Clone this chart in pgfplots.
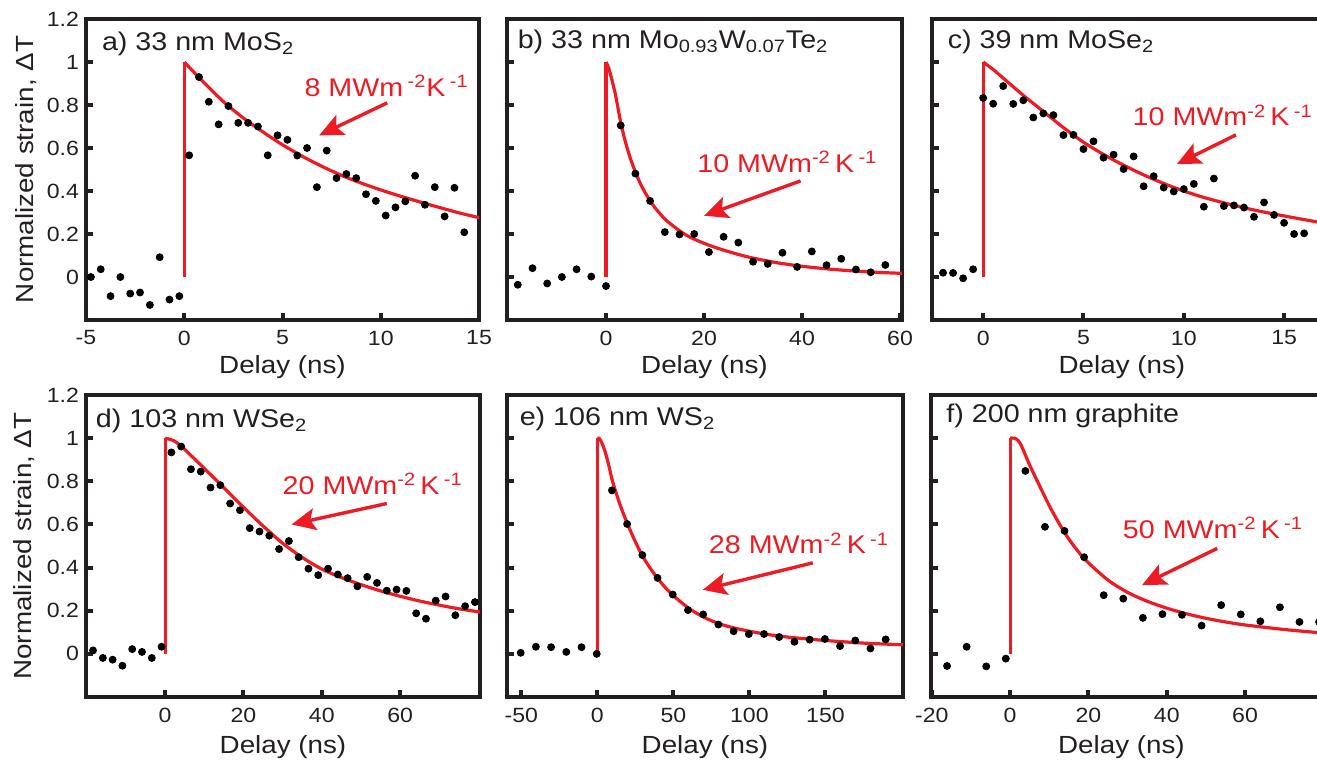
\documentclass[border=0pt]{standalone}
\usepackage{fontspec}
\setmainfont{Liberation Sans}[FakeStretch=1.12]
\usepackage{pgfplots}
\pgfplotsset{compat=1.18}
\usetikzlibrary{arrows.meta}
\definecolor{fitred}{RGB}{237,28,36}
\definecolor{framec}{RGB}{35,31,32}
\pgfplotsset{
  panel/.style={
    scale only axis, anchor=south west,
    axis line style={line width=2pt, draw=framec},
    tick align=inside, xtick pos=left, ytick pos=left,
    major tick length=3.5pt,
    major tick style={line width=2pt, draw=framec},
    ymin=-0.2, ymax=1.2,
    ytick={0,0.2,0.4,0.6,0.8,1,1.2},
    tick label style={font=\fontsize{10.3}{11}\selectfont, text=framec},
    xticklabel style={yshift=-1.8pt},
    /pgf/number format/assume math mode=true,
    label style={font=\fontsize{12.4}{13}\selectfont, text=framec},
    clip=true,
  },
  toprow/.style={xlabel style={at={(axis description cs:0.5,-0.158)}, anchor=center}},
  botrow/.style={xlabel style={at={(axis description cs:0.5,-0.165)}, anchor=center}},
  nolab/.style={yticklabels={}},
  fit/.style={fitred, line width=1.6pt},
  dots/.style={only marks, mark=*, mark size=1.75pt, black},
}
\tikzset{
  ann/.style={fitred, font=\fontsize{12.8}{13}\selectfont, anchor=base, inner sep=0pt},
  ttl/.style={anchor=west, inner sep=0pt, font=\fontsize{12.8}{13}\selectfont, text=framec},
  arr/.style={fitred, line width=1.7pt, -{Stealth[length=12pt,width=11pt,inset=2.5pt]}},
}
\begin{document}
\begin{tikzpicture}
\path[use as bounding box] (0,0) rectangle (658.5pt,-380.5pt);

% ---------- a ----------
\begin{axis}[panel, toprow, at={(43pt,-160pt)}, width=196.5pt, height=150.5pt,
  xmin=-5, xmax=15, xtick={-5,0,5,10,15},
  xlabel={Delay (ns)}, ylabel={Normalized strain, ΔT},
  ylabel style={at={(axis description cs:-0.153,0.5)}, anchor=center}]
\addplot[fit] coordinates {(0,0) (0,1)};
\addplot[fit, smooth] coordinates {(0,1) (0.5,0.952) (1,0.905) (2,0.815) (3,0.74) (4,0.675) (5,0.615) (6,0.562) (7,0.515) (8,0.473) (9,0.437) (10,0.405) (11,0.376) (12,0.349) (13,0.323) (14,0.298) (15,0.276)};
\addplot[dots] coordinates {(-4.75,0.0) (-4.25,0.036) (-3.75,-0.089) (-3.25,0.0) (-2.75,-0.077) (-2.25,-0.072) (-1.75,-0.13) (-1.25,0.092) (-0.75,-0.105) (-0.25,-0.089) (0.25,0.566) (0.75,0.93) (1.25,0.815) (1.75,0.71) (2.25,0.795) (2.75,0.717) (3.25,0.717) (3.75,0.70) (4.25,0.566) (4.75,0.659) (5.25,0.638) (5.75,0.565) (6.25,0.60) (6.75,0.418) (7.25,0.588) (7.75,0.46) (8.25,0.479) (8.75,0.46) (9.25,0.385) (9.75,0.354) (10.25,0.286) (10.75,0.324) (11.25,0.352) (11.75,0.471) (12.25,0.336) (12.75,0.418) (13.25,0.282) (13.75,0.415) (14.25,0.208)};
\node[ttl] at (rel axis cs:0,1) [xshift=7.8pt, yshift=-12.5pt] {a) 33 nm MoS\textsubscript{2}};
\node[ann] at (axis cs:10.3,0.839) {8 MWm\,\textsuperscript{-2}K\,\textsuperscript{-1}};
\draw[arr] (axis cs:10.33,0.81) -- (axis cs:6.87,0.659);
\end{axis}

% ---------- b ----------
\begin{axis}[panel, toprow, nolab, at={(253.5pt,-160pt)}, width=197.5pt, height=150.5pt,
  xmin=-20.2, xmax=60.4, xtick={0,20,40,60}, xlabel={Delay (ns)}]
\addplot[fit] coordinates {(0,0) (0,1)};
\addplot[fit, smooth] coordinates {(0,1) (0.5,0.975) (1,0.935) (1.5,0.89) (2,0.84) (3,0.72) (4,0.625) (5,0.55) (6,0.488) (7,0.435) (8,0.392) (9,0.355) (10,0.322) (12,0.27) (14,0.232) (16,0.2) (18,0.176) (21,0.148) (24,0.125) (27,0.105) (30,0.088) (35,0.066) (40,0.05) (45,0.038) (50,0.029) (55,0.022) (60.4,0.017)};
\addplot[dots] coordinates {(-18,-0.036) (-15,0.041) (-12,-0.03) (-9,0.0) (-6,0.036) (-3,0.002) (0,-0.042) (3,0.705) (6,0.481) (9,0.354) (12,0.209) (15,0.198) (18,0.2) (21,0.116) (24,0.187) (27,0.16) (30,0.071) (33,0.061) (36,0.113) (39,0.047) (42,0.119) (45,0.055) (48,0.085) (51,0.035) (54,0.022) (57,0.056)};
\node[ttl] at (rel axis cs:0,1) [xshift=5.2pt, yshift=-11.5pt] {b) 33 nm Mo\textsubscript{0.93}W\textsubscript{0.07}Te\textsubscript{2}};
\node[ann] at (axis cs:37.0,0.486) {10 MWm\textsuperscript{-2}\,K\,\textsuperscript{-1}};
\draw[arr] (axis cs:39.7,0.447) -- (axis cs:20.0,0.285);
\end{axis}

% ---------- c ----------
\begin{axis}[panel, toprow, nolab, at={(466pt,-160pt)}, width=195pt, height=150.5pt,
  xmin=-2.55, xmax=16.89, xtick={0,5,10,15}, xlabel={Delay (ns)},
  xlabel style={at={(axis description cs:0.487,-0.158)}}]
\addplot[fit] coordinates {(0,0) (0,1)};
\addplot[fit, smooth] coordinates {(0,1) (0.5,0.965) (1,0.925) (2,0.845) (3,0.77) (4,0.695) (5,0.627) (6,0.57) (7,0.52) (8,0.475) (9,0.435) (10,0.4) (11,0.37) (12,0.345) (13,0.322) (14,0.302) (15,0.284) (16,0.267) (16.89,0.252)};
\addplot[dots] coordinates {(-2,0.02) (-1.5,0.019) (-1,-0.006) (-0.5,0.036) (0,0.833) (0.5,0.806) (1,0.888) (1.5,0.805) (2,0.822) (2.5,0.742) (3,0.761) (3.5,0.753) (4,0.66) (4.5,0.661) (5,0.595) (5.5,0.631) (6,0.555) (6.5,0.569) (7,0.502) (7.5,0.561) (8,0.422) (8.5,0.469) (9,0.416) (9.5,0.398) (10,0.409) (10.5,0.433) (11,0.327) (11.5,0.458) (12,0.33) (12.5,0.333) (13,0.323) (13.5,0.28) (14,0.347) (14.5,0.289) (15,0.252) (15.5,0.2) (16,0.203)};
\node[ttl] at (rel axis cs:0,1) [xshift=7.7pt, yshift=-11.5pt] {c) 39 nm MoSe\textsubscript{2}};
\node[ann] at (axis cs:11.94,0.703) {10 MWm\textsuperscript{-2}\,K\,\textsuperscript{-1}};
\draw[arr] (axis cs:12.6,0.661) -- (axis cs:9.65,0.525);
\end{axis}

% ---------- d ----------
\begin{axis}[panel, botrow, at={(43pt,-348.5pt)}, width=197pt, height=151pt,
  xmin=-20.2, xmax=80.4, xtick={0,20,40,60},
  xlabel={Delay (ns)}, ylabel={Normalized strain, ΔT},
  ylabel style={at={(axis description cs:-0.157,0.5)}, anchor=center}]
\addplot[fit] coordinates {(0,0) (0,1)};
\addplot[fit, smooth] coordinates {(0,1) (2,0.99) (4,0.965) (6,0.93) (8,0.895) (10,0.86) (15,0.77) (20,0.68) (25,0.593) (30,0.513) (35,0.447) (40,0.393) (45,0.354) (50,0.321) (55,0.292) (60,0.267) (65,0.245) (70,0.226) (75,0.209) (80.4,0.194)};
\addplot[dots] coordinates {(-18.4,0.016) (-15.9,-0.019) (-13.4,-0.027) (-10.9,-0.055) (-8.4,0.022) (-5.9,0.009) (-3.4,-0.019) (-0.9,0.033) (1.6,0.934) (4.1,0.961) (6.6,0.856) (9.1,0.845) (11.6,0.771) (14.1,0.782) (16.6,0.697) (19.1,0.666) (21.6,0.583) (24.1,0.567) (26.6,0.548) (29.1,0.486) (31.6,0.523) (34.1,0.448) (36.6,0.395) (39.1,0.365) (41.6,0.395) (44.1,0.368) (46.6,0.351) (49.1,0.313) (51.6,0.357) (54.1,0.329) (56.6,0.293) (59.1,0.298) (61.6,0.292) (64.1,0.188) (66.6,0.163) (69.1,0.247) (71.6,0.266) (74.1,0.179) (76.6,0.221) (79.1,0.24)};
\node[ttl] at (rel axis cs:0,1) [xshift=4.8pt, yshift=-12.8pt] {d) 103 nm WSe\textsubscript{2}};
\node[ann] at (axis cs:53.0,0.74) {20 MWm\textsuperscript{-2}\,K\,\textsuperscript{-1}};
\draw[arr] (axis cs:56.6,0.697) -- (axis cs:32.3,0.60);
\end{axis}

% ---------- e ----------
\begin{axis}[panel, botrow, nolab, at={(253.5pt,-348.5pt)}, width=198pt, height=151pt,
  xmin=-59.4, xmax=201, xtick={-50,0,50,100,150}, xlabel={Delay (ns)}]
\addplot[fit] coordinates {(0,0) (0,1)};
\addplot[fit, smooth] coordinates {(0,1) (1,1.0) (2.5,0.985) (5,0.94) (7.5,0.875) (10,0.80) (15,0.69) (20,0.60) (25,0.52) (30,0.45) (35,0.395) (40,0.347) (45,0.305) (50,0.27) (60,0.212) (70,0.17) (80,0.14) (90,0.12) (100,0.105) (112,0.09) (125,0.078) (137,0.07) (150,0.062) (175,0.05) (201,0.042)};
\addplot[dots] coordinates {(-50.4,0.005) (-40.4,0.033) (-30.4,0.031) (-20.4,0.009) (-10.4,0.031) (-0.4,0.0) (9.6,0.758) (19.6,0.602) (29.6,0.458) (39.6,0.352) (49.6,0.275) (59.6,0.203) (69.6,0.183) (79.6,0.136) (89.6,0.105) (99.6,0.092) (109.6,0.092) (119.6,0.078) (129.6,0.056) (139.6,0.066) (149.6,0.069) (159.6,0.036) (169.6,0.062) (179.6,0.025) (189.6,0.067)};
\node[ttl] at (rel axis cs:0,1) [xshift=6.2pt, yshift=-12pt] {e) 106 nm WS\textsubscript{2}};
\node[ann] at (axis cs:132.6,0.464) {28 MWm\textsuperscript{-2}\,K\,\textsuperscript{-1}};
\draw[arr] (axis cs:141.7,0.422) -- (axis cs:69.3,0.297);
\end{axis}

% ---------- f ----------
\begin{axis}[panel, botrow, nolab, at={(465.5pt,-348.5pt)}, width=195.5pt, height=151pt,
  xmin=-20.2, xmax=79.65, xtick={-20,0,20,40,60}, xlabel={Delay (ns)},
  xlabel style={at={(axis description cs:0.487,-0.165)}}]
\addplot[fit] coordinates {(0,0) (0,1)};
\addplot[fit, smooth] coordinates {(0,1) (1,1.0) (2,0.99) (3,0.96) (5,0.875) (7.5,0.78) (10,0.687) (12.5,0.605) (15,0.532) (17.5,0.472) (20,0.422) (25,0.342) (30,0.285) (35,0.244) (40,0.212) (45,0.186) (50,0.165) (55,0.148) (60,0.134) (70,0.113) (79.65,0.097)};
\addplot[dots] coordinates {(-16.1,-0.056) (-11.1,0.033) (-6.1,-0.058) (-1.1,-0.022) (3.9,0.848) (8.9,0.589) (13.9,0.57) (18.9,0.448) (23.9,0.272) (28.9,0.256) (33.9,0.167) (38.9,0.184) (43.9,0.181) (48.9,0.131) (53.9,0.226) (58.9,0.183) (63.9,0.151) (68.9,0.216) (73.9,0.148) (78.9,0.148)};
\node[ttl] at (rel axis cs:0,1) [xshift=7.5pt, yshift=-10.5pt] {f) 200 nm graphite};
\node[ann] at (axis cs:51.8,0.534) {50 MWm\textsuperscript{-2}\,K\,\textsuperscript{-1}};
\draw[arr] (axis cs:52.9,0.489) -- (axis cs:33.7,0.319);
\end{axis}
\end{tikzpicture}
\end{document}
